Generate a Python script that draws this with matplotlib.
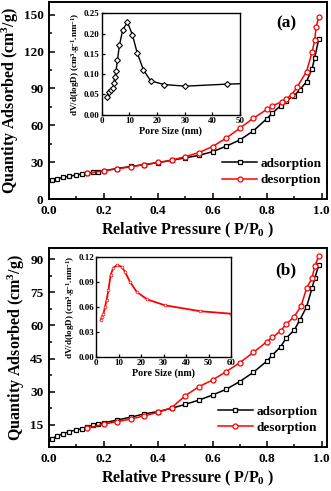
"""
N2 adsorption/desorption isotherms with pore size distribution insets
 - two stacked panels (a) and (b)
"""
import matplotlib
matplotlib.use("Agg")
import matplotlib.pyplot as plt
from matplotlib.ticker import MultipleLocator

# ---- panel (a) isotherm ----
p_ads_a = [0.01, 0.03, 0.05, 0.075, 0.1, 0.12, 0.14, 0.16, 0.18, 0.2, 0.25, 0.3, 0.35,
           0.4, 0.45, 0.5, 0.55, 0.6, 0.65, 0.7, 0.75, 0.8, 0.82, 0.85, 0.87, 0.9,
           0.92, 0.945, 0.965, 0.975, 0.99]
q_ads_a = [15.6, 16.5, 17.5, 18.5, 19.5, 20.3, 21.0, 21.7, 22.3, 23.0, 24.8, 26.5, 28.0,
           29.5, 31.5, 33.5, 35.5, 38.5, 43.0, 48.0, 55.5, 65.5, 70.0, 76.0, 80.0, 84.2,
           88.8, 95.5, 106.0, 115.0, 130.5]
p_des_a = [0.99, 0.98, 0.975, 0.965, 0.945, 0.91, 0.89, 0.87, 0.855, 0.82, 0.8, 0.75,
           0.7, 0.65, 0.6, 0.55, 0.5, 0.45, 0.4, 0.35, 0.3, 0.25, 0.2, 0.14]
q_des_a = [148.0, 140.2, 129.4, 119.4, 103.7, 91.0, 84.7, 81.5, 79.3, 75.8, 73.0, 65.8,
           57.6, 49.5, 42.7, 37.8, 34.5, 31.5, 29.8, 28.0, 26.2, 24.5, 23.0, 21.0]

# ---- panel (a) pore size distribution ----
d_a = [1.9, 2.6, 3.2, 4.0, 4.4, 4.7, 5.2, 5.7, 6.4, 7.6, 9.3, 11.1, 12.8, 15.1, 17.7,
       22.6, 30.2, 45.2]
dv_a = [0.044, 0.056, 0.060, 0.065, 0.077, 0.092, 0.108, 0.135, 0.171, 0.209, 0.228,
        0.197, 0.153, 0.110, 0.083, 0.074, 0.070, 0.075]
d_a_tail = [45.2, 60.0]
dv_a_tail = [0.075, 0.078]

# ---- panel (b) isotherm ----
p_ads_b = [0.01, 0.03, 0.05, 0.075, 0.1, 0.12, 0.14, 0.16, 0.18, 0.2, 0.25, 0.3, 0.35,
           0.4, 0.45, 0.5, 0.55, 0.6, 0.65, 0.7, 0.75, 0.8, 0.82, 0.85, 0.87, 0.9,
           0.92, 0.945, 0.965, 0.975, 0.99]
q_ads_b = [8.7, 10.0, 10.9, 12.0, 12.7, 13.3, 14.2, 14.9, 15.6, 15.9, 17.2, 18.5, 20.0,
           21.0, 22.5, 24.3, 26.2, 28.5, 31.1, 34.6, 38.8, 43.9, 46.6, 50.4, 54.2, 57.9,
           62.4, 68.4, 76.8, 81.3, 87.3]
p_des_b = [0.99, 0.975, 0.965, 0.945, 0.925, 0.9, 0.87, 0.85, 0.82, 0.8, 0.75, 0.7,
           0.65, 0.6, 0.55, 0.5, 0.45, 0.4, 0.35, 0.3, 0.25, 0.2, 0.14]
q_des_b = [91.4, 86.8, 81.3, 76.8, 68.8, 64.0, 60.5, 57.5, 54.6, 52.7, 47.8, 43.1,
           39.1, 35.3, 32.3, 28.2, 22.8, 20.7, 19.1, 17.6, 16.5, 15.3, 13.5]

# ---- panel (b) pore size distribution ----
d_b = [2.1, 2.5, 3.3, 4.0, 4.7, 5.5, 6.5, 7.7, 9.5, 11.4, 12.9, 15.1, 18.1, 22.8,
       30.7, 46.2, 60.0]
dv_b = [0.0445, 0.048, 0.052, 0.060, 0.068, 0.080, 0.098, 0.107, 0.110, 0.108, 0.102,
        0.090, 0.078, 0.069, 0.062, 0.055, 0.052]

plt.rcParams["font.family"] = ["Liberation Serif", "DejaVu Serif"]
plt.rcParams["font.weight"] = "bold"
plt.rcParams["axes.labelweight"] = "bold"
plt.rcParams["mathtext.fontset"] = "custom"
plt.rcParams["mathtext.rm"] = "Liberation Serif:bold"
plt.rcParams["mathtext.it"] = "Liberation Serif:bold:italic"
plt.rcParams["mathtext.bf"] = "Liberation Serif:bold"

W, H = 331, 491
fig = plt.figure(figsize=(W / 100, H / 100), dpi=100)


def frac(left, top, right, bottom):
    # pixel box -> figure fraction rect
    return [left / W, 1 - bottom / H, (right - left) / W, (bottom - top) / H]


def style_main(ax, ylim, ymaj):
    ax.set_xlim(0, 1.02)
    ax.set_ylim(*ylim)
    ax.xaxis.set_major_locator(MultipleLocator(0.2))
    ax.xaxis.set_minor_locator(MultipleLocator(0.1))
    ax.yaxis.set_major_locator(MultipleLocator(ymaj))
    ax.yaxis.set_minor_locator(MultipleLocator(ymaj / 2))
    ax.tick_params(which="both", direction="in", labelsize=9.5, width=1.1)
    ax.tick_params(which="major", length=4, pad=4)
    ax.tick_params(which="minor", length=2.5)
    ax.xaxis.set_major_formatter(plt.FormatStrFormatter("%.1f"))
    for s in ax.spines.values():
        s.set_linewidth(1.4)
    ax.set_xlabel("Relative Pressure ( P/P$_0$ )", fontsize=11.5, labelpad=3)
    ax.set_ylabel("Quantity Adsorbed (cm$^3$/g)", fontsize=11.5, labelpad=2)


def style_inset(ax, xmax, xmaj, ymax, ymaj, yfmt):
    ax.set_xlim(0, xmax)
    ax.set_ylim(0, ymax)
    ax.xaxis.set_major_locator(MultipleLocator(xmaj))
    ax.yaxis.set_major_locator(MultipleLocator(ymaj))
    ax.yaxis.set_major_formatter(plt.FormatStrFormatter(yfmt))
    ax.tick_params(direction="in", labelsize=6.5, length=2.5, width=0.9, pad=1.5)
    for s in ax.spines.values():
        s.set_linewidth(1.0)
    ax.set_xlabel("Pore Size (nm)", fontsize=7.2, labelpad=1)
    ax.set_ylabel("dV/d(logD) (cm$^3$.g$^{-1}$.nm$^{-1}$)", fontsize=6.5, labelpad=1)


# ---------- panel (a) ----------
ax1 = fig.add_axes(frac(49, 2.4, 327, 199))
ax1.plot(p_ads_a, q_ads_a, "-s", color="black", lw=1.1, ms=3.0, mfc="white",
         mec="black", mew=0.9, label="adsorption")
ax1.plot(p_des_a, q_des_a, "-o", color="red", lw=1.1, ms=3.6, mfc="white",
         mec="red", mew=0.9, label="desorption")
style_main(ax1, (0, 160), 30)
ax1.text(0.853, 0.893, "(a)", transform=ax1.transAxes, fontsize=12.5,
         fontweight="bold", ha="center", va="center")
ax1.legend(loc="center left", bbox_to_anchor=(0.6, 0.137), frameon=False,
           fontsize=9.5, handlelength=2.6, handletextpad=0.3, labelspacing=0.3,
           borderpad=0)

ins1 = fig.add_axes(frac(101.7, 13.3, 240, 114.5))
ins1.plot(d_a_tail, dv_a_tail, "-", color="black", lw=1.0)
ins1.plot(d_a, dv_a, "-D", color="black", lw=1.0, ms=3.0, mfc="white",
          mec="black", mew=0.8)
style_inset(ins1, 50, 10, 0.25, 0.05, "%.2f")

# ---------- panel (b) ----------
ax2 = fig.add_axes(frac(49, 248, 327, 447))
ax2.plot(p_ads_b, q_ads_b, "-s", color="black", lw=1.1, ms=3.0, mfc="white",
         mec="black", mew=0.9, label="adsorption")
ax2.plot(p_des_b, q_des_b, "-o", color="red", lw=1.1, ms=3.6, mfc="white",
         mec="red", mew=0.9, label="desorption")
style_main(ax2, (5, 95), 15)
ax2.text(0.853, 0.889, "(b)", transform=ax2.transAxes, fontsize=12.5,
         fontweight="bold", ha="center", va="center")
ax2.legend(loc="center left", bbox_to_anchor=(0.585, 0.137), frameon=False,
           fontsize=9.5, handlelength=2.6, handletextpad=0.3, labelspacing=0.3,
           borderpad=0)

ins2 = fig.add_axes(frac(96, 256.7, 231, 357.3))
ins2.plot(d_b, dv_b, "-o", color="red", lw=1.3, ms=2.0, mfc="white",
          mec="red", mew=0.5)
style_inset(ins2, 60, 10, 0.12, 0.03, "%.2f")

fig.savefig("out.png", dpi=100)
print("Saved plot: out.png")
